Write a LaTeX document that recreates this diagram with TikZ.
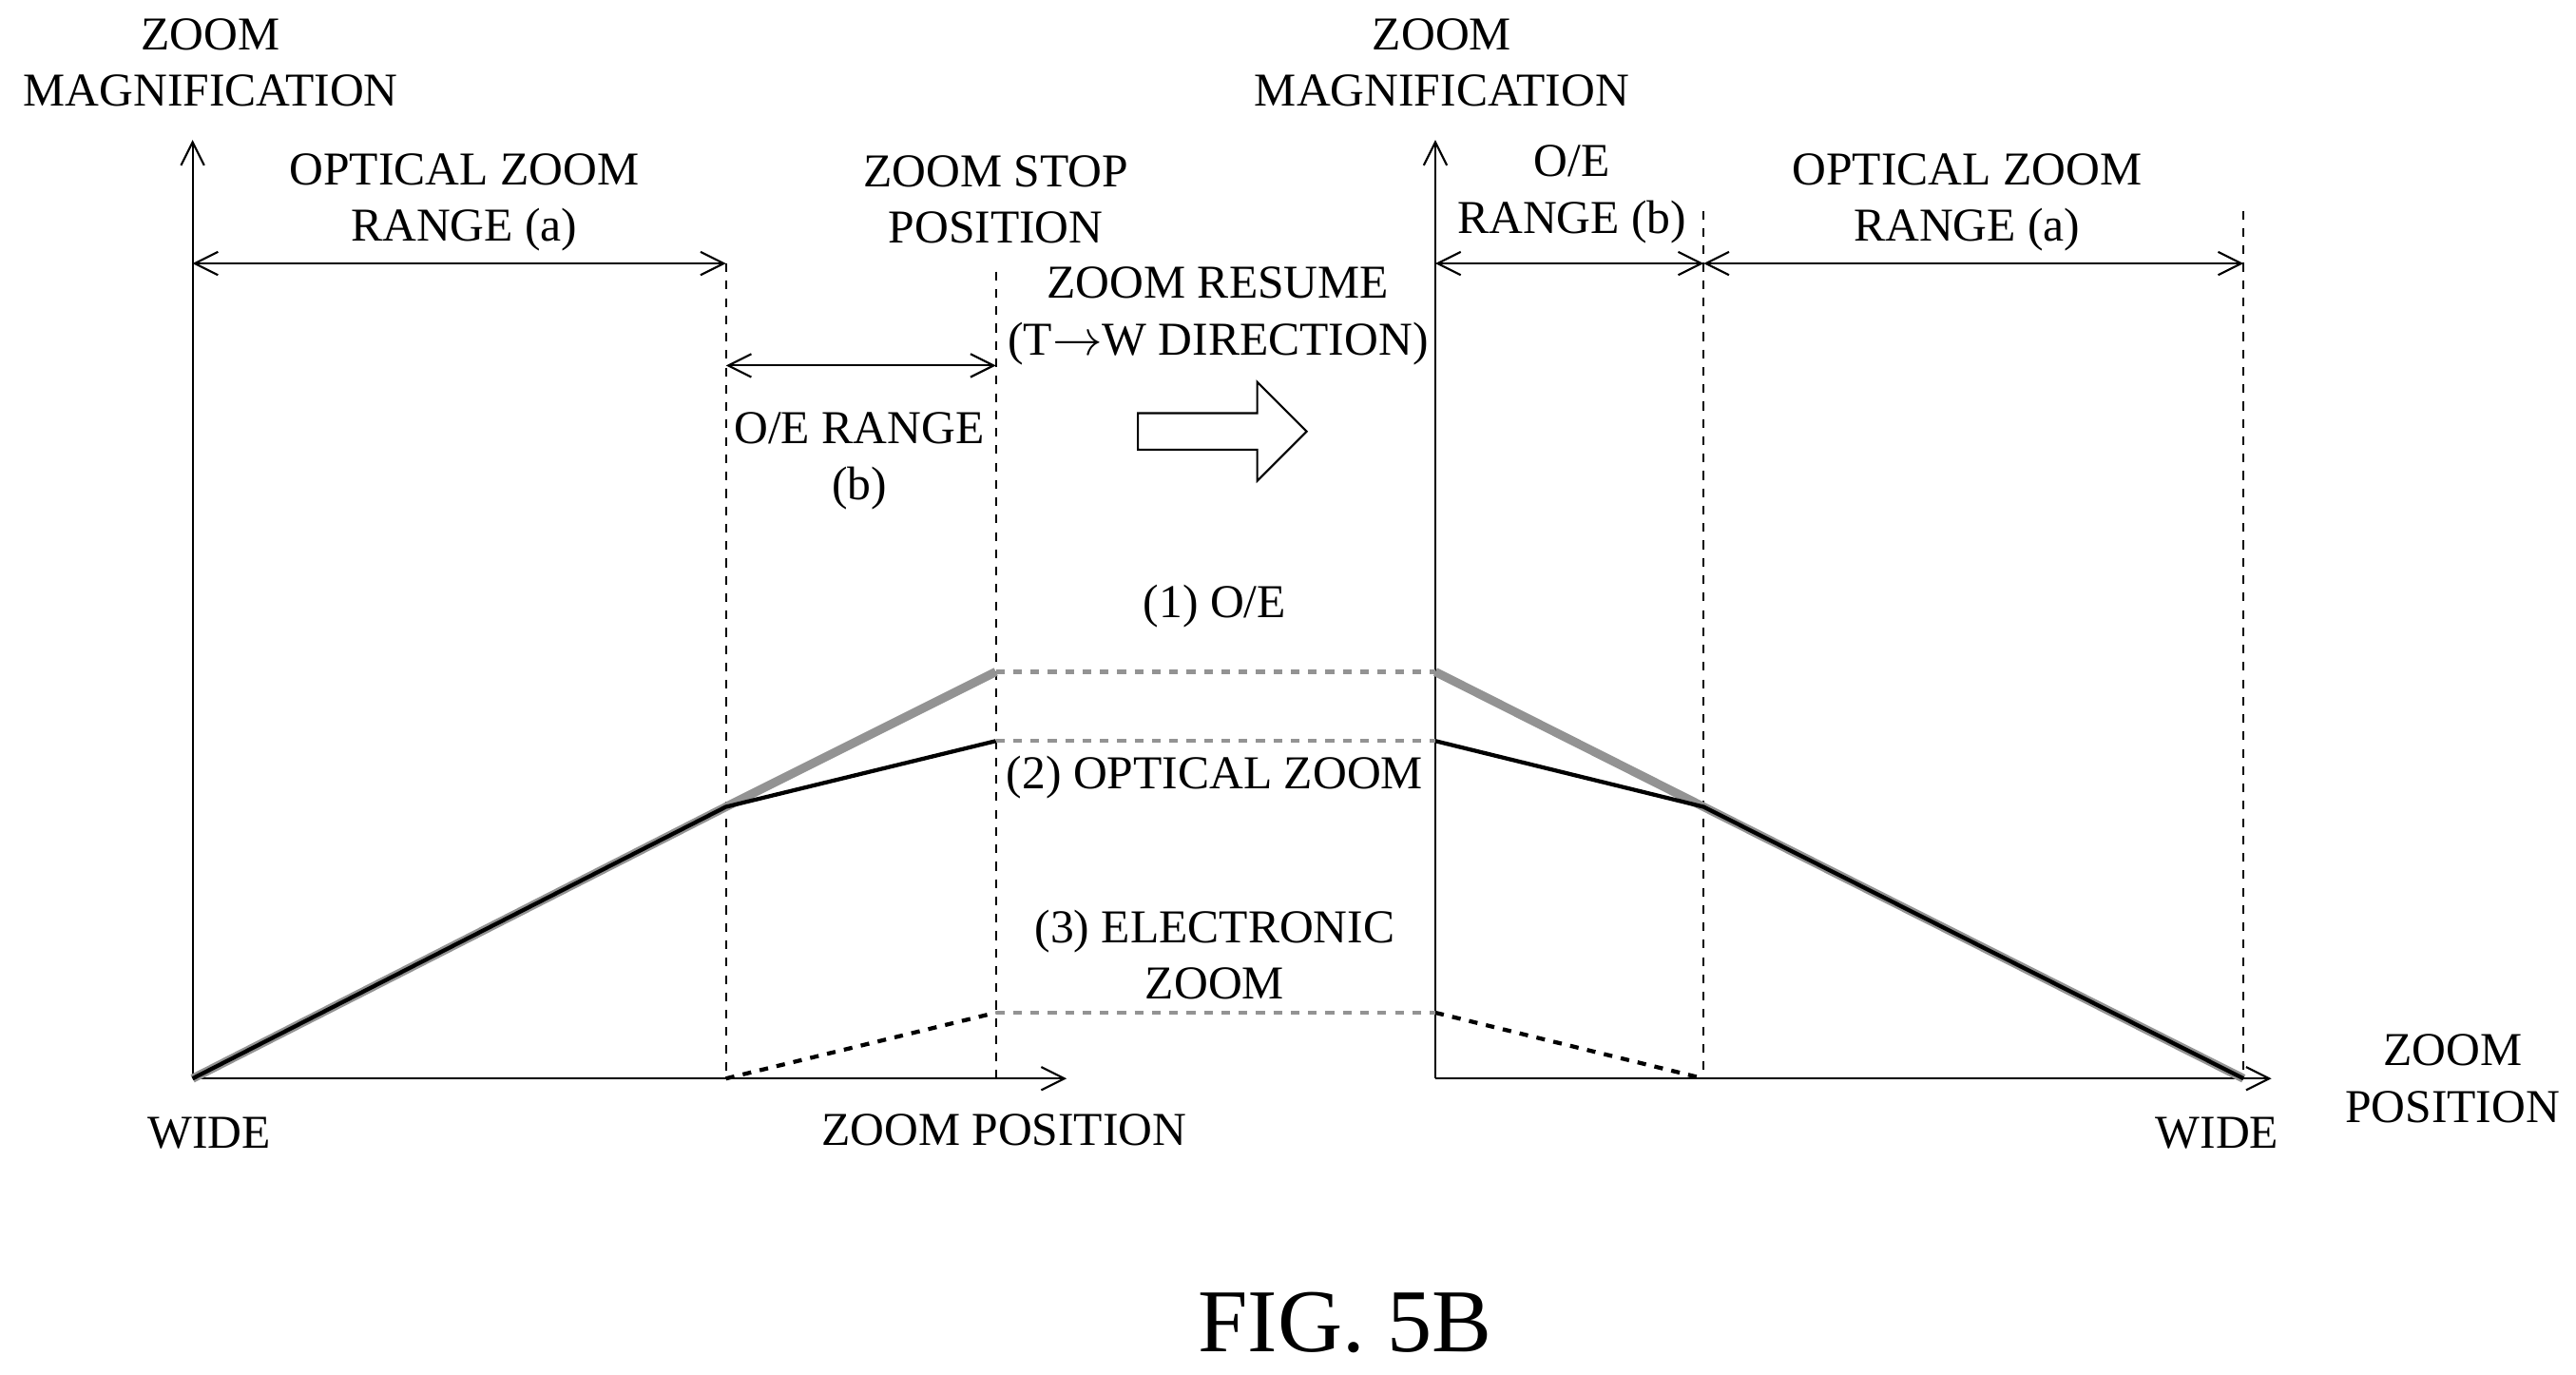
\documentclass[tikz,border=0pt]{standalone}
\usepackage{fontspec}
\setmainfont{Liberation Serif}
\usetikzlibrary{arrows.meta,shapes.arrows,positioning}
\tikzset{lbl/.style={align=center,font=\fontsize{16.3}{19.5}\selectfont,inner sep=1pt},
  ax/.style={-{Straight Barb[length=8pt,width=8pt]},line width=0.7pt},
  rng/.style={{Straight Barb[length=8pt,width=8pt]}-{Straight Barb[length=8pt,width=8pt]},line width=0.7pt},
  vdash/.style={dashed,line width=0.6pt},
  opt/.style={line width=1.4pt},
  oe/.style={gray!85,line width=3pt},
  hdash/.style={gray!85,dashed,line width=1.4pt},
  edash/.style={dashed,line width=1.4pt}}
\begin{document}
\begin{tikzpicture}[x=0.02cm,y=-0.02cm]
\useasboundingbox (0,0) rectangle (1565,835);
% left graph
\coordinate (o1) at (117,655);
\coordinate (y1) at (117,85);
\coordinate (x1) at (648,655);
\coordinate (a1) at (441,160);
\coordinate (a1b) at (441,655);
\coordinate (s1) at (605,165);
\coordinate (s1b) at (605,655);
\coordinate (m1) at (441,490);
\coordinate (p1) at (605,408);
\coordinate (q1) at (605,450);
\coordinate (e1) at (605,615);
\draw[ax] (o1)--(y1);
\draw[ax] (o1)--(x1);
\draw[vdash] (a1)--(a1b);
\draw[vdash] (s1)--(s1b);
\draw[rng] (117,160)--(441,160);
\draw[rng] (441,222)--(605,222);
\draw[oe] (o1)--(m1)--(p1);
\draw[opt] (o1)--(m1)--(q1);
\draw[edash] (a1b)--(e1);
% right graph
\coordinate (o2) at (872,655);
\coordinate (y2) at (872,85);
\coordinate (x2) at (1380,655);
\coordinate (b2) at (1035,128);
\coordinate (b2b) at (1035,655);
\coordinate (w2) at (1363,128);
\coordinate (w2b) at (1363,655);
\coordinate (p2) at (872,408);
\coordinate (q2) at (872,450);
\coordinate (e2) at (872,615);
\coordinate (m2) at (1035,490);
\draw[ax] (o2)--(y2);
\draw[ax] (o2)--(x2);
\draw[vdash] (b2)--(b2b);
\draw[vdash] (w2)--(w2b);
\draw[rng] (872,160)--(1035,160);
\draw[rng] (1035,160)--(1363,160);
\draw[oe] (p2)--(m2)--(w2b);
\draw[opt] (q2)--(m2)--(w2b);
\draw[edash] (e2)--(b2b);
% links
\draw[hdash] (p1)--(p2);
\draw[hdash] (q1)--(q2);
\draw[hdash] (e1)--(e2);
\node[single arrow,draw,fill=white,line width=0.7pt,minimum width=1.2cm,single arrow head extend=0.22cm,minimum height=2.05cm] (res) at (737,262) {};
% labels
\node[lbl] (mag1) at (128,38) {ZOOM\\MAGNIFICATION};
\node[lbl] (mag2) at (876,38) {ZOOM\\MAGNIFICATION};
\node[lbl] (ra1) at (282,123) {OPTICAL ZOOM\\RANGE (a)};
\node[lbl] (stop) at (605,121) {ZOOM STOP\\POSITION};
\node[lbl] (resume) at (740,192) {ZOOM RESUME\\(T$\rightarrow$W DIRECTION)};
\node[lbl] (rb1) at (522,280) {O/E RANGE\\(b)};
\node[lbl] (rb2) at (955,118) {O/E\\RANGE (b)};
\node[lbl] (ra2) at (1195,123) {OPTICAL ZOOM\\RANGE (a)};
\node[lbl] (l1) at (738,368) {(1) O/E};
\node[lbl] (l2) at (738,472) {(2) OPTICAL ZOOM};
\node[lbl] (l3) at (738,580) {(3) ELECTRONIC\\ZOOM};
\node[lbl] (wide1) at (127,688) {WIDE};
\node[lbl] (pos1) at (610,686) {ZOOM POSITION};
\node[lbl] (wide2) at (1347,688) {WIDE};
\node[lbl] (pos2) at (1490,655) {ZOOM\\POSITION};
\node[font=\fontsize{31}{36}\selectfont] (fig) at (817,803) {FIG. 5B};
\end{tikzpicture}
\end{document}
